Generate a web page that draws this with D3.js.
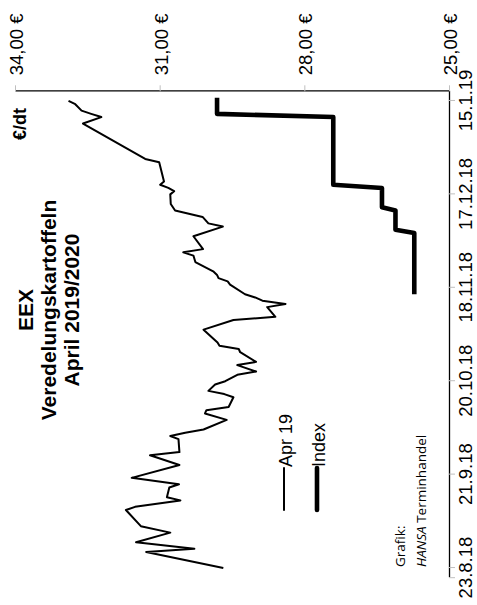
<!DOCTYPE html>
<html>
<head>
<meta charset="utf-8">
<script src="https://cdn.jsdelivr.net/npm/d3@7"></script>
<style>
  body { margin: 0; background: #fff; }
  svg { display: block; }
</style>
</head>
<body>
<svg id="chart" width="477" height="605"></svg>
<script>
// series (€/dt)
var apr19Dates = ["2018-08-23","2018-08-28","2018-08-29","2018-08-31","2018-09-03","2018-09-05",
  "2018-09-10","2018-09-11","2018-09-13","2018-09-14","2018-09-17","2018-09-18","2018-09-20",
  "2018-09-24","2018-09-27","2018-09-28","2018-10-02","2018-10-03","2018-10-04","2018-10-05",
  "2018-10-08","2018-10-10","2018-10-11","2018-10-12","2018-10-15","2018-10-16","2018-10-17",
  "2018-10-19","2018-10-20","2018-10-22","2018-10-23","2018-10-25","2018-10-26","2018-10-29",
  "2018-10-30","2018-10-31","2018-11-01","2018-11-05","2018-11-08","2018-11-09","2018-11-12",
  "2018-11-13","2018-11-14","2018-11-15","2018-11-16","2018-11-19","2018-11-20","2018-11-21",
  "2018-11-22","2018-11-23","2018-11-26","2018-11-28","2018-11-29","2018-11-30","2018-12-04",
  "2018-12-07","2018-12-08","2018-12-10","2018-12-12","2018-12-14","2018-12-17","2018-12-18",
  "2018-12-19","2018-12-20","2018-12-21","2018-12-27","2018-12-28","2019-01-08","2019-01-10",
  "2019-01-11","2019-01-12","2019-01-14","2019-01-15"];
var apr19Values = [29.68,31.28,30.28,31.49,30.78,31.39,
  31.70,31.51,30.57,30.85,30.80,30.60,31.58,
  30.59,31.20,30.59,30.61,30.78,30.47,30.09,
  29.61,30.06,30.03,29.57,29.47,29.66,29.99,
  29.85,29.64,29.39,29.00,29.39,29.00,29.33,
  29.36,29.76,29.80,30.09,29.47,28.60,28.77,
  28.39,28.87,29.02,29.23,29.54,29.59,29.78,
  29.81,29.88,30.26,30.30,30.51,30.10,30.30,
  29.69,29.99,30.11,30.68,30.77,30.78,30.70,
  30.82,30.99,30.91,31.01,31.30,32.59,32.21,
  32.42,32.62,32.75,32.89];

var indexDates = ["2018-11-16","2018-12-05","2018-12-06","2018-12-12","2018-12-13","2018-12-19",
  "2018-12-20","2019-01-10","2019-01-11","2019-01-16"];
var indexValues = [25.72,25.72,26.11,26.11,26.39,26.39,27.40,27.40,29.81,29.81];

var valueTicks = [34, 31, 28, 25];
var dateTicks = ["2018-08-23","2018-09-21","2018-10-20","2018-11-18","2018-12-17","2019-01-15"];
var dateRange = ["2018-08-20","2019-01-18"];

var titleLines = ["EEX", "Veredelungskartoffeln", "April 2019/2020"];
var seriesNames = ["Apr 19", "Index"];

var arial = "'Liberation Sans', Arial, sans-serif";
var parse = d3.utcParse("%Y-%m-%d");

// chart is drawn upright and turned a quarter to the left
var svg = d3.select("#chart");
var g = svg.append("g").attr("transform", "translate(0,605) rotate(-90)");

var x = d3.scaleUtc().domain(dateRange.map(parse)).range([27.3, 513.7]);
var y = d3.scaleLinear().domain([25, 34]).range([449, 15]);

// date axis
var xAxis = d3.axisBottom(x)
    .tickValues(dateTicks.map(parse))
    .tickFormat(d3.utcFormat("%-d.%-m.%y"))
    .tickSize(6).tickSizeOuter(0).tickPadding(4);
var gx = g.append("g").attr("transform", "translate(0,449)").call(xAxis);
gx.select(".domain").attr("stroke", "#000").attr("stroke-width", 1.3);
gx.selectAll(".tick line").attr("stroke", "#bfbfbf");
gx.selectAll(".tick text").attr("font-family", arial).attr("font-size", 18.5).attr("fill", "#000");
gx.append("line")
    .attr("x1", x.range()[0]).attr("x2", x.range()[0])
    .attr("y1", 0).attr("y2", 6)
    .attr("stroke", "#bfbfbf");

// value axis
var fmt = d3.format(".2f");
var yAxis = d3.axisRight(y)
    .tickValues(valueTicks)
    .tickFormat(function (d) { return fmt(d).replace(".", ",") + " €"; })
    .tickSize(6).tickSizeOuter(0).tickPadding(10);
var gy = g.append("g").attr("transform", "translate(" + x.range()[1] + ",0)").call(yAxis);
gy.select(".domain").attr("stroke", "#000").attr("stroke-width", 1.3);
gy.selectAll(".tick line").attr("stroke", "#bfbfbf");
gy.selectAll(".tick text").attr("font-family", arial).attr("font-size", 18.5).attr("fill", "#000").attr("dy", "0.4em");

// lines
var apr19 = apr19Dates.map(function (d, i) { return { date: parse(d), value: apr19Values[i] }; });
var index = indexDates.map(function (d, i) { return { date: parse(d), value: indexValues[i] }; });

var line = d3.line()
    .x(function (d) { return x(d.date); })
    .y(function (d) { return y(d.value); });

g.append("path").datum(apr19)
    .attr("d", line)
    .attr("fill", "none").attr("stroke", "#000")
    .attr("stroke-width", 2).attr("stroke-linejoin", "round");

g.append("path").datum(index)
    .attr("d", line)
    .attr("fill", "none").attr("stroke", "#000")
    .attr("stroke-width", 4.6).attr("stroke-linejoin", "round");

// title
g.selectAll(".title").data(titleLines).enter().append("text")
    .attr("class", "title")
    .attr("x", 295)
    .attr("y", function (d, i) { return 33 + i * 23; })
    .attr("text-anchor", "middle")
    .attr("font-family", arial).attr("font-weight", "bold").attr("font-size", 21)
    .text(function (d) { return d; });

g.append("text")
    .attr("x", 465).attr("y", 26)
    .attr("font-family", arial).attr("font-weight", "bold").attr("font-size", 18)
    .text("€/dt");

// legend
var legend = g.selectAll(".legend").data(seriesNames).enter().append("g")
    .attr("class", "legend")
    .attr("transform", function (d, i) { return "translate(95," + (284 + i * 33) + ")"; });
legend.append("line")
    .attr("x1", 0).attr("x2", 42)
    .attr("stroke", "#000")
    .attr("stroke-width", function (d, i) { return i ? 4.6 : 2; })
    .attr("stroke-linecap", "round");
legend.append("text")
    .attr("x", 43).attr("y", 0)
    .attr("dy", "0.42em")
    .attr("font-family", arial).attr("font-size", 18)
    .text(function (d) { return d; });

// credit
var credit = g.append("text")
    .attr("font-family", "'Open Sans', sans-serif").attr("font-size", 13.5);
credit.append("tspan").attr("x", 38).attr("y", 405).text("Grafik:");
var l2 = credit.append("tspan").attr("x", 38).attr("y", 426);
l2.append("tspan").attr("font-style", "italic").text("HANSA");
l2.append("tspan").text(" Terminhandel");
</script>
</body>
</html>
